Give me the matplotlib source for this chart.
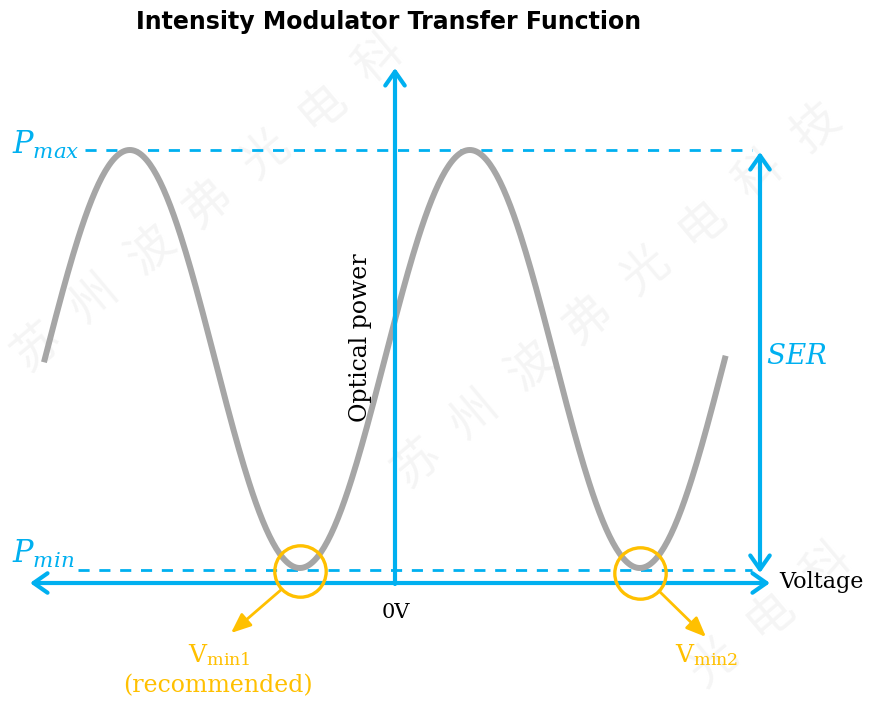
import matplotlib.pyplot as plt
import numpy as np

plt.rcParams['mathtext.fontset'] = 'custom'
plt.rcParams['mathtext.rm'] = 'DejaVu Serif'
plt.rcParams['mathtext.it'] = 'DejaVu Serif:italic'

# transfer function (voltage in arbitrary units, 0V at the vertical axis)
v_start, v_end = -4.13, 3.89      # ends of the grey curve
v_peak = -3.12                     # first maximum
v_pi = 2.0                         # half period
p_min, p_max = 0.0, 1.0
v_min1 = v_peak + v_pi             # recommended bias point
v_min2 = v_peak + 3 * v_pi

blue = '#00B0F0'
gold = '#FFC000'
grey = '#A6A6A6'

fig = plt.figure(figsize=(8.74, 7.02), dpi=100)
ax = fig.add_axes([0, 0, 1, 1])
ax.set_xlim(-395 / 85, (874 - 395) / 85)
ax.set_ylim((568 - 702) / 418, 568 / 418)
ax.axis('off')

def px(x, y):
    # picture pixel -> data coords
    return (x - 395) / 85, (568 - y) / 418

# watermark (only the characters that sit fully inside the picture)
wm = '苏州波弗光电科技有限公司'
for x0, y0 in [(37, 347), (417, 463), (485, 855)]:
    for i, ch in enumerate(wm):
        cx, cy = x0 + 57 * i, y0 - 48 * i
        if 28 < cx < 846 and 28 < cy < 674:
            ax.text(*px(cx, cy), ch, fontsize=34, color='#f5f5f5', rotation=40,
                    ha='center', va='center', family='Noto Sans CJK SC', zorder=0)

v = np.linspace(v_start, v_end, 400)
p = p_min + (p_max - p_min) * 0.5 * (1 + np.cos(np.pi * (v - v_peak) / v_pi))
ax.plot(v, p, color=grey, lw=4.3, solid_capstyle='butt', zorder=2)

# dashed level lines
ax.plot([px(85, 0)[0], px(752, 0)[0]], [p_max, p_max], color=blue, lw=2, ls=(0, (4, 3.5)), zorder=1)
ax.plot([px(78, 0)[0], px(752, 0)[0]], [p_min - 0.005, p_min - 0.005], color=blue, lw=2, ls=(0, (4, 3.5)), zorder=1)

arrow = dict(arrowstyle='<->,head_length=1.0,head_width=0.7', color=blue, lw=3,
             shrinkA=0, shrinkB=0, mutation_scale=10)
# voltage axis
ax.annotate('', xy=px(30, 583), xytext=px(770, 583), arrowprops=arrow, zorder=3)
# power axis
up = dict(arrow, arrowstyle='->,head_length=1.0,head_width=0.7')
ax.annotate('', xy=px(395, 68), xytext=px(395, 584), arrowprops=up, zorder=3)
# SER
ax.annotate('', xy=px(760, 152), xytext=px(760, 573), arrowprops=arrow, zorder=3)

# bias points
ax.plot([v_min1, v_min2], [p_min - 0.007, p_min - 0.013], 'o', ms=37, mfc='none',
        mec=gold, mew=2.4, zorder=4)
garrow = dict(arrowstyle='-|>,head_length=1.2,head_width=0.5', color=gold, lw=2,
              shrinkA=0, shrinkB=0, mutation_scale=10)
ax.annotate('', xy=px(231, 633), xytext=px(282, 589), arrowprops=garrow, zorder=4)
ax.annotate('', xy=px(706, 637), xytext=px(659, 591), arrowprops=garrow, zorder=4)

# labels
ax.text(*px(12, 154), r'$P_{max}$', color=blue, fontsize=22, ha='left', va='baseline')
ax.text(*px(12, 563), r'$P_{min}$', color=blue, fontsize=22, ha='left', va='baseline')
ax.text(*px(797, 356), r'$SER$', color=blue, fontsize=20, ha='center', va='center')
ax.text(*px(360, 338), 'Optical power', family='DejaVu Serif', fontsize=17,
        rotation=90, ha='center', va='center')
ax.text(*px(779, 582), 'Voltage', family='DejaVu Serif', fontsize=16, ha='left', va='center')
ax.text(*px(396, 612), '0V', family='DejaVu Serif', fontsize=15, ha='center', va='center')
ax.text(*px(219, 662), r'$\mathrm{V_{min1}}$', color=gold, fontsize=18, ha='center', va='baseline')
ax.text(*px(218, 686), '(recommended)', family='DejaVu Serif', color=gold, fontsize=17,
        ha='center', va='center')
ax.text(*px(707, 662), r'$\mathrm{V_{min2}}$', color=gold, fontsize=18, ha='center', va='baseline')

ax.text(*px(389, 22), 'Intensity Modulator Transfer Function', fontsize=17,
        fontweight='bold', ha='center', va='center')

plt.savefig('out.png', dpi=100)
